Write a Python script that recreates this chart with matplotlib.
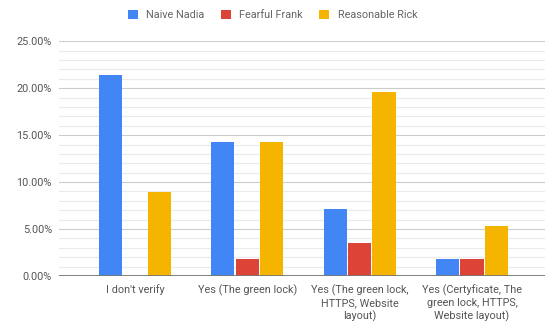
import matplotlib.pyplot as plt
import numpy as np
from matplotlib.ticker import MultipleLocator, FuncFormatter

plt.rcParams['font.family'] = ['Roboto', 'DejaVu Sans']

categories = ["I don't verify",
              "Yes (The green lock)",
              "Yes (The green lock,\nHTTPS, Website\nlayout)",
              "Yes (Certyficate, The\ngreen lock, HTTPS,\nWebsite layout)"]
series_names = ["Naive Nadia", "Fearful Frank", "Reasonable Rick"]
naive_nadia = [21.43, 14.29, 7.14, 1.79]
fearful_frank = [0.0, 1.79, 3.57, 1.79]
reasonable_rick = [8.93, 14.29, 19.64, 5.36]
colors = ["#4285F4", "#DB4437", "#F4B400"]

fig = plt.figure(figsize=(5.45, 3.24), dpi=100)
ax = fig.add_axes([0.108, 0.148, 0.892, 0.725])

x = np.arange(len(categories))
width = 0.207
step = 0.218
for i, (vals, name) in enumerate(zip([naive_nadia, fearful_frank, reasonable_rick], series_names)):
    ax.bar(x + (i - 1) * step, vals, width, color=colors[i], label=name, zorder=3)

ax.set_ylim(0, 25)
ax.set_xlim(-0.677, 3.65)
ax.yaxis.set_major_locator(MultipleLocator(5))
ax.yaxis.set_minor_locator(MultipleLocator(1))
ax.yaxis.set_major_formatter(FuncFormatter(lambda v, p: f"{v:.2f}%"))
ax.grid(axis='y', which='major', color='#cccccc', linewidth=0.8, zorder=0)
ax.grid(axis='y', which='minor', color='#ebebeb', linewidth=0.8, zorder=0)
ax.axhline(0, color='#777777', linewidth=1.3, zorder=4)

for s in ax.spines.values():
    s.set_visible(False)
ax.tick_params(axis='both', which='both', length=0, labelsize=7.8, colors='#555555')
ax.tick_params(axis='y', pad=5)
ax.tick_params(axis='x', pad=6)
ax.set_xticks(x)
ax.set_xticklabels(categories, linespacing=1.25)

fig.legend(loc='upper center', bbox_to_anchor=(0.5, 1.0), ncol=3, frameon=False,
           fontsize=7.8, labelcolor='#666666', handlelength=0.9, handleheight=0.9,
           handletextpad=0.8, columnspacing=1.5)

fig.savefig("out.png", dpi=100)
